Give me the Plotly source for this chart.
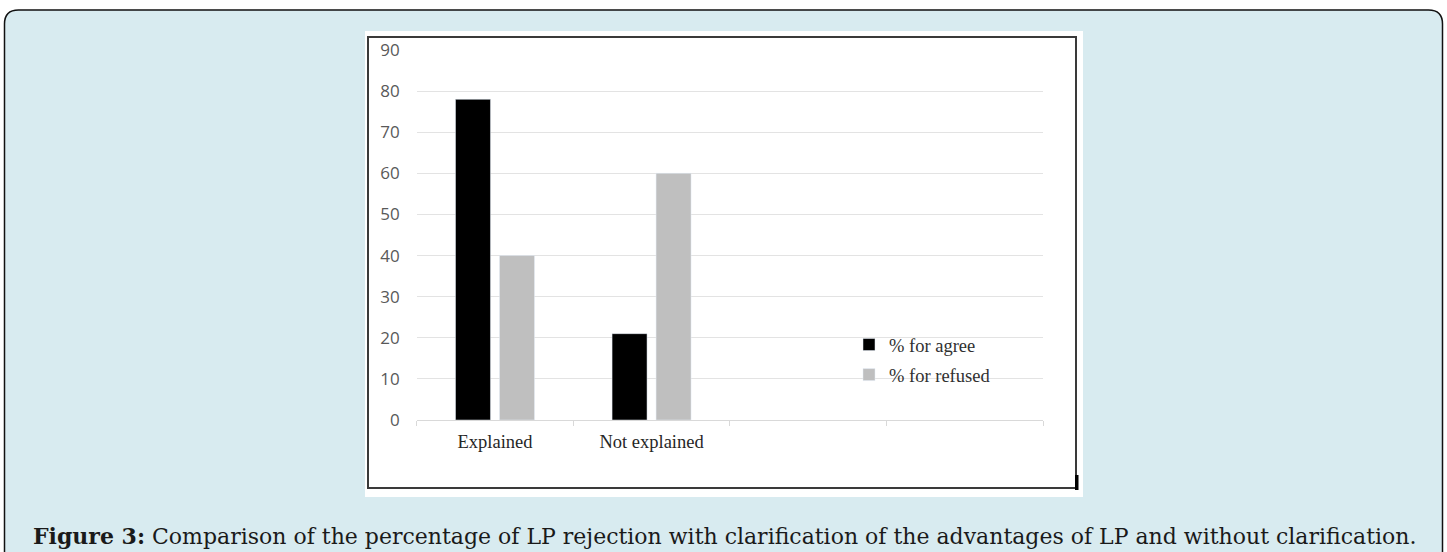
import plotly.graph_objects as go

W, H = 1447, 552

categories = ["Explained", "Not explained", " ", "  "]
agree = [78, 21, None, None]
refused = [40, 60, None, None]
series_names = ["% for agree", "% for refused"]
y_ticks = [0, 10, 20, 30, 40, 50, 60, 70, 80, 90]
caption = ("<b>Figure 3:</b> Comparison of the percentage of LP rejection with "
           "clarification of the advantages of LP and without clarification.")


def px(x):
    return x / W


def py(y):
    return 1 - y / H


fig = go.Figure()
fig.add_trace(go.Bar(x=categories, y=agree, name=series_names[0],
                     marker=dict(color="#000000"), legendgroup="a"))
fig.add_trace(go.Bar(x=categories, y=refused, name=series_names[1],
                     marker=dict(color="#bfbfbf"), legendgroup="b"))

# Panel with rounded top corners
x0, x1, y0, yb, r = 4.5, 1442.5, 10, 580, 14
path = (f"M {px(x0 + r)},{py(y0)} L {px(x1 - r)},{py(y0)} "
        f"Q {px(x1)},{py(y0)} {px(x1)},{py(y0 + r)} "
        f"L {px(x1)},{py(yb)} L {px(x0)},{py(yb)} L {px(x0)},{py(y0 + r)} "
        f"Q {px(x0)},{py(y0)} {px(x0 + r)},{py(y0)} Z")
shapes = [
    dict(type="path", path=path, xref="paper", yref="paper",
         fillcolor="#d8ebf0", line=dict(color="#111111", width=1.5), layer="below"),
    dict(type="rect", xref="paper", yref="paper", x0=px(365), x1=px(1083),
         y0=py(497), y1=py(31), fillcolor="white", line=dict(width=0), layer="below"),
    dict(type="rect", xref="paper", yref="paper", x0=px(368), x1=px(1076),
         y0=py(488), y1=py(37), fillcolor="rgba(0,0,0,0)",
         line=dict(color="#3a3a3a", width=2), layer="below"),
    dict(type="rect", xref="paper", yref="paper", x0=px(1075), x1=px(1078.5),
         y0=py(490), y1=py(475), fillcolor="#000000", line=dict(width=0), layer="below"),
]

fig.update_layout(
    width=W, height=H,
    margin=dict(l=0, r=0, t=0, b=0, pad=0, autoexpand=False),
    paper_bgcolor="white",
    plot_bgcolor="rgba(0,0,0,0)",
    barmode="group",
    bargap=0.438,
    bargroupgap=0.205,
    shapes=shapes,
    showlegend=True,
    legend=dict(
        x=px(849), y=py(326), xanchor="left", yanchor="top",
        bgcolor="rgba(0,0,0,0)",
        font=dict(family="Liberation Serif", size=18.5, color="#303030"),
        traceorder="grouped", tracegroupgap=3,
        itemwidth=30,
    ),
    xaxis=dict(
        domain=[px(416.7), px(1043)],
        type="category",
        categoryorder="array", categoryarray=categories,
        tickson="boundaries",
        ticks="outside", ticklen=5, tickcolor="#d9d9d9",
        showline=True, linecolor="#d9d9d9", linewidth=1,
        showgrid=False, automargin=False,
        tickfont=dict(family="Liberation Serif", size=18.5, color="#262626"),
        ticklabelstandoff=5,
        range=[-0.5, 3.5],
    ),
    yaxis=dict(
        domain=[py(420), py(50)],
        range=[0, 90],
        tickvals=y_ticks,
        showgrid=True, gridcolor="#e3e3e3", gridwidth=1,
        zeroline=False, showline=False, automargin=False,
        tickfont=dict(family="Open Sans", size=17, color="#595959"),
        ticklabelstandoff=16,
    ),
    annotations=[
        dict(text=caption, xref="paper", yref="paper", x=px(724), y=py(536),
             xanchor="center", yanchor="middle", showarrow=False,
             font=dict(family="DejaVu Serif", size=22, color="#1a1a1a")),
    ],
)

fig.write_html("out.html", config={"displayModeBar": False},
               post_script="document.body.style.margin='0';document.body.style.overflow='hidden';")
